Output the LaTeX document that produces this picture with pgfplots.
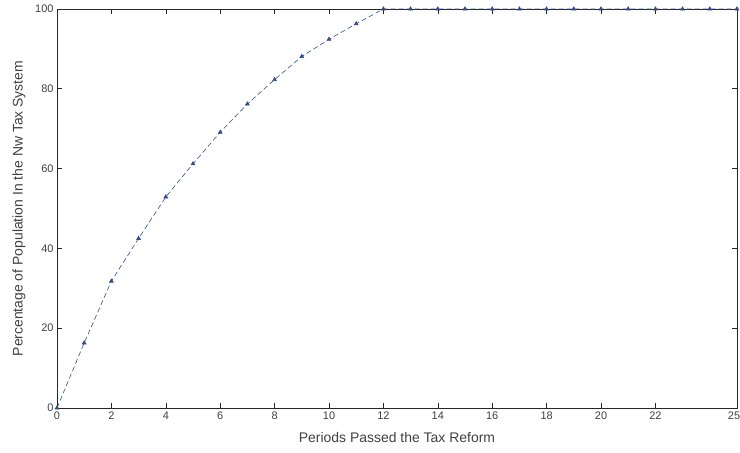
\documentclass[border=0pt]{standalone}
\usepackage{pgfplots}
\pgfplotsset{compat=1.18}
\usepackage{fontspec}
\setmainfont{Liberation Sans}
\definecolor{axgray}{HTML}{262626}
\definecolor{txtgray}{HTML}{404040}
\definecolor{lineblue}{HTML}{2E4F8C}
\begin{document}
\begin{tikzpicture}[x=1bp,y=1bp]
\begin{axis}[
  name=ax,
  scale only axis,
  width=680bp, height=399bp,
  xmin=0, xmax=25, ymin=0, ymax=100,
  xtick={0,2,...,22},
  extra x ticks={25},
  extra x tick style={xticklabel style={xshift=-3bp}},
  ytick={0,20,...,100},
  tick align=inside,
  major tick length=5bp,
  axis line style={axgray, line width=0.6pt},
  tick style={axgray, line width=0.6pt},
  every tick label/.append style={font=\fontsize{11}{12}\selectfont, text=txtgray},
  /pgf/number format/assume math mode=true,
  xlabel={Periods Passed the Tax Reform},
  ylabel={Percentage of Population In the Nw Tax System},
  label style={font=\fontsize{14}{15}\selectfont, text=txtgray},
  x label style={at={(0.5,0)}, yshift=-30bp, anchor=center},
  y label style={at={(0,0.5)}, yshift=38bp, anchor=center},
  clip=false,
]
\addplot[lineblue, line width=0.6pt, dash pattern=on 5bp off 3bp,
  mark=triangle*, mark size=2.2pt, mark options={solid, fill=lineblue}]
coordinates {
(0,0) (1,16.3) (2,31.8) (3,42.5) (4,52.9) (5,61.2) (6,69.1) (7,76.2)
(8,82.3) (9,88.1) (10,92.4) (11,96.3) (12,100) (13,100) (14,100) (15,100)
(16,100) (17,100) (18,100) (19,100) (20,100) (21,100) (22,100) (23,100)
(24,100) (25,100)
};
\end{axis}
\pgfresetboundingbox
\path[use as bounding box] ([xshift=-57bp,yshift=-45bp]ax.south west) rectangle ([xshift=3bp,yshift=9bp]ax.north east);
\end{tikzpicture}
\end{document}
